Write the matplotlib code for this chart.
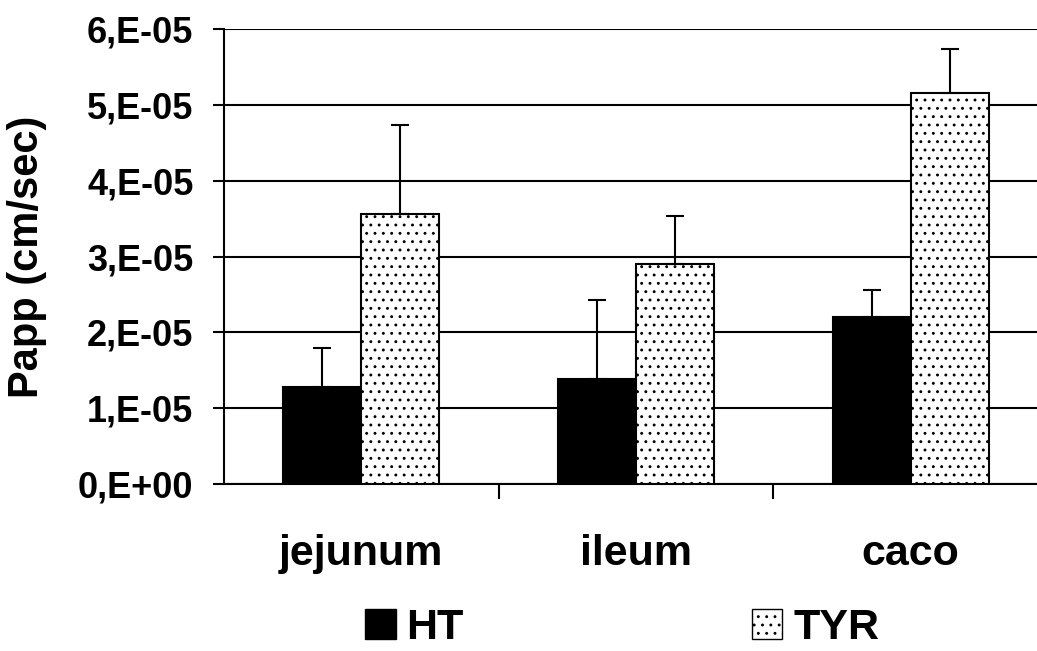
import matplotlib
matplotlib.use("Agg")
import matplotlib.pyplot as plt
import numpy as np
from matplotlib.patches import Patch

plt.rcParams['font.family'] = ['Liberation Sans', 'DejaVu Sans']
plt.rcParams['font.weight'] = 'bold'
plt.rcParams['hatch.linewidth'] = 0.9

categories = ["jejunum", "ileum", "caco"]
series = ["HT", "TYR"]
ht_vals = [1.28e-05, 1.39e-05, 2.20e-05]
ht_err = [0.51e-05, 1.03e-05, 0.36e-05]
tyr_vals = [3.56e-05, 2.90e-05, 5.15e-05]
tyr_err = [1.18e-05, 0.63e-05, 0.58e-05]
yticks = [0, 1e-05, 2e-05, 3e-05, 4e-05, 5e-05, 6e-05]
ytick_labels = ["0,E+00", "1,E-05", "2,E-05", "3,E-05", "4,E-05", "5,E-05", "6,E-05"]

fig = plt.figure(figsize=(10.37, 6.51), dpi=100)
ax = fig.add_axes([224/1037, 1-484/651, 824/1037, 455/651])

x = np.arange(len(categories))
w = 0.284
ax.bar(x - w/2, ht_vals, width=w, color='black', edgecolor='black', linewidth=1.5, zorder=3)
ax.bar(x + w/2, tyr_vals, width=w, color='white', edgecolor='black', linewidth=1.5,
       hatch='..', zorder=3)
ax.errorbar(x - w/2, ht_vals, yerr=[np.zeros(3), ht_err], fmt='none', ecolor='black',
            elinewidth=1.5, capsize=6.5, capthick=1.5, zorder=4)
ax.errorbar(x + w/2, tyr_vals, yerr=[np.zeros(3), tyr_err], fmt='none', ecolor='black',
            elinewidth=1.5, capsize=6.5, capthick=1.5, zorder=4)

ax.set_xlim(-0.5, 2.5)
ax.set_ylim(0, 6e-05)
ax.set_yticks(yticks)
ax.set_yticklabels(ytick_labels, fontsize=26, fontweight='bold')
ax.yaxis.grid(True, color='black', linewidth=1.5, zorder=0)
ax.set_axisbelow(True)

ax.set_xticks(x)
ax.set_xticklabels(categories, fontsize=31, fontweight='bold')
ax.set_xticks([0.5, 1.5], minor=True)
ax.tick_params(axis='x', which='major', length=0, pad=36)
ax.tick_params(axis='x', which='minor', length=11, width=1.5, direction='out')
ax.tick_params(axis='y', which='major', length=8, width=1.5, direction='out', pad=14)

for s in ['top', 'right']:
    ax.spines[s].set_visible(False)
for s in ['left', 'bottom']:
    ax.spines[s].set_linewidth(1.5)

ax.set_ylabel("Papp (cm/sec)", fontsize=30, fontweight='bold')
ax.yaxis.set_label_coords(-0.215, 0.5)

handles = [Patch(facecolor='black', edgecolor='black', label=series[0]),
           Patch(facecolor='white', edgecolor='black', hatch='..', label=series[1])]
fig.legend(handles=handles, loc='center', bbox_to_anchor=(0.6, 0.035), ncol=2,
           frameon=False, prop={'size': 31, 'weight': 'bold'},
           handlelength=0.7, handleheight=0.7, handletextpad=0.25, columnspacing=6.7)

fig.savefig("out.png", dpi=100)
